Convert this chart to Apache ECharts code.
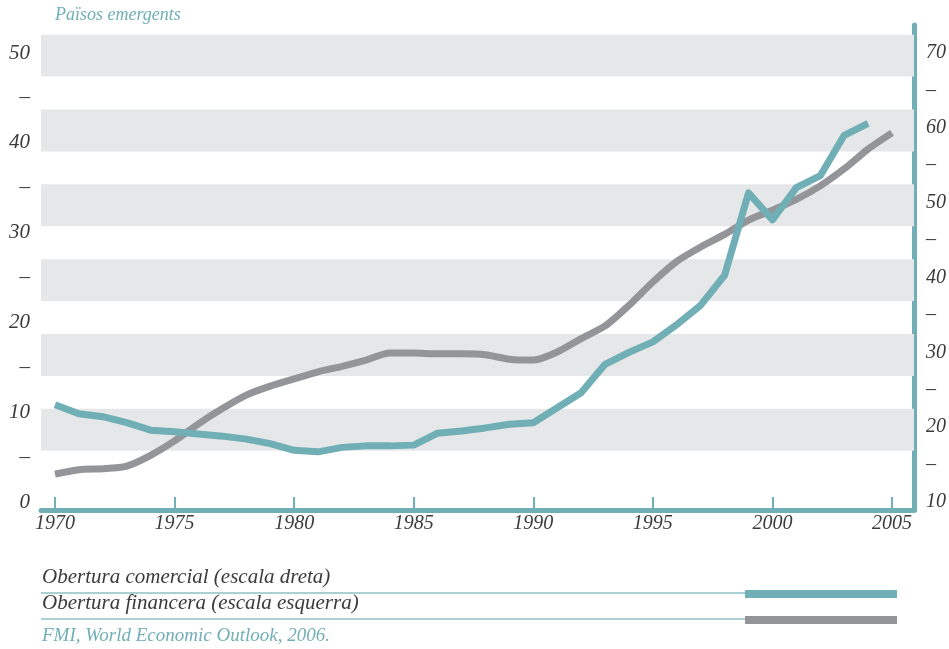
<!DOCTYPE html>
<html>
<head>
    <meta charset="utf-8">
    <script type="text/javascript" src="https://cdn.jsdelivr.net/npm/echarts@6.0.0/dist/echarts.min.js"></script>
    <style type="text/css">
        * {
            margin: 0;
            padding: 0;
        }
        body {
            background: #ffffff;
        }
        #container {
            width: 949px;
            height: 649px;
        }
    </style>
</head>
<body>
<div id="container"></div>

<script type="text/javascript">

    //anys
    var years = [1970, 1971, 1972, 1973, 1974, 1975, 1976, 1977, 1978, 1979,
                 1980, 1981, 1982, 1983, 1984, 1985, 1986, 1987, 1988, 1989,
                 1990, 1991, 1992, 1993, 1994, 1995, 1996, 1997, 1998, 1999,
                 2000, 2001, 2002, 2003, 2004, 2005];
    //obertura financera (escala esquerra)
    var financera = [3.1, 3.6, 3.7, 4.0, 5.2, 6.8, 8.7, 10.4, 11.9, 12.9,
                     13.7, 14.5, 15.1, 15.8, 16.6, 16.6, 16.5, 16.5, 16.4, 15.9,
                     15.8, 16.7, 18.2, 19.6, 21.9, 24.5, 26.8, 28.4, 29.8, 31.4,
                     32.5, 33.7, 35.2, 37.1, 39.3, 41.1];
    //obertura comercial (escala dreta)
    var comercial = [23.0, 21.8, 21.4, 20.6, 19.6, 19.4, 19.1, 18.8, 18.4, 17.8,
                     16.9, 16.7, 17.3, 17.5, 17.5, 17.6, 19.2, 19.5, 19.9, 20.4,
                     20.6, 22.6, 24.6, 28.4, 30.0, 31.4, 33.7, 36.3, 40.3, 51.3,
                     47.7, 52.0, 53.6, 59.0, 60.6, null];
    //etiquetes dels eixos
    var xTicks = [1970, 1975, 1980, 1985, 1990, 1995, 2000, 2005];
    var leftTicks = [0, 5, 10, 15, 20, 25, 30, 35, 40, 45, 50];
    var rightTicks = [10, 15, 20, 25, 30, 35, 40, 45, 50, 55, 60, 65, 70];
    //franges grises (escala dreta)
    var bands = [20, 30, 40, 50, 60, 70];

    var teal = '#71afb6';
    var gray = '#939598';
    var bandColor = '#e6e7e8';
    var textColor = '#3b3b3b';
    var font = 'Liberation Serif';

    function pairs(ys) {
        var out = [];
        for (var i = 0; i < years.length; i++) {
            if (ys[i] !== null && ys[i] !== undefined) {
                out.push([years[i], ys[i]]);
            }
        }
        return out;
    }

    function dashLabel(v) {
        return (Math.round(v) % 10 === 0) ? String(Math.round(v)) : '–';
    }

    var bandData = bands.map(function (v) {
        return [{yAxis: v - 3.15}, {yAxis: v + 2.45}];
    });

    //escala esquerra: 0..50, escala dreta = 10 + 1.2 * esquerra
    var leftMin = -0.891, leftMax = 53.118;

    var dom = document.getElementById('container');
    var myChart = echarts.init(dom);
    var option = {
        animation: false,
        grid: {
            left: 41,
            right: 34,
            top: 25,
            bottom: 139
        },
        xAxis: {
            type: 'value',
            min: 1969.415,
            max: 2005.919,
            splitLine: {show: false},
            axisLine: {
                show: true,
                onZero: false,
                lineStyle: {color: teal, width: 5}
            },
            axisTick: {
                show: true,
                inside: true,
                length: 13,
                customValues: xTicks,
                lineStyle: {color: teal, width: 2}
            },
            axisLabel: {
                customValues: xTicks,
                margin: 4,
                color: textColor,
                fontFamily: font,
                fontStyle: 'italic',
                fontSize: 20,
                formatter: function (v) { return String(Math.round(v)); }
            }
        },
        yAxis: [
            {
                type: 'value',
                position: 'left',
                min: leftMin,
                max: leftMax,
                splitLine: {show: false},
                axisLine: {show: false},
                axisTick: {show: false},
                axisLabel: {
                    customValues: leftTicks,
                    margin: 11,
                    color: textColor,
                    fontFamily: font,
                    fontStyle: 'italic',
                    fontSize: 21,
                    formatter: dashLabel
                }
            },
            {
                type: 'value',
                position: 'right',
                min: 10 + 1.2 * leftMin,
                max: 10 + 1.2 * leftMax,
                splitLine: {show: false},
                axisLine: {
                    show: true,
                    lineStyle: {color: teal, width: 5}
                },
                axisTick: {show: false},
                axisLabel: {
                    customValues: rightTicks,
                    margin: 12,
                    color: textColor,
                    fontFamily: font,
                    fontStyle: 'italic',
                    fontSize: 20,
                    formatter: dashLabel
                }
            }
        ],
        series: [
            {
                name: 'Obertura financera (escala esquerra)',
                type: 'line',
                yAxisIndex: 0,
                symbol: 'none',
                smooth: 0.25,
                z: 3,
                lineStyle: {color: gray, width: 7, join: 'round'},
                data: pairs(financera)
            },
            {
                name: 'Obertura comercial (escala dreta)',
                type: 'line',
                yAxisIndex: 1,
                symbol: 'none',
                z: 4,
                lineStyle: {color: teal, width: 7, join: 'round'},
                data: pairs(comercial),
                markArea: {
                    silent: true,
                    z: 1,
                    itemStyle: {color: bandColor},
                    data: bandData
                }
            }
        ],
        graphic: [
            {
                type: 'text', left: 55, top: 6, silent: true,
                style: {text: 'Països emergents', fill: teal, font: 'italic 18px "Liberation Serif"'}
            },
            {
                type: 'text', left: 42, top: 567, silent: true,
                style: {text: 'Obertura comercial (escala dreta)', fill: textColor, font: 'italic 21px "Liberation Serif"'}
            },
            {
                type: 'line', silent: true,
                shape: {x1: 41, y1: 593, x2: 745, y2: 593},
                style: {stroke: '#8fc0c5', lineWidth: 1.5}
            },
            {
                type: 'rect', silent: true,
                shape: {x: 745, y: 590, width: 152, height: 8},
                style: {fill: teal}
            },
            {
                type: 'text', left: 42, top: 593, silent: true,
                style: {text: 'Obertura financera (escala esquerra)', fill: textColor, font: 'italic 21px "Liberation Serif"'}
            },
            {
                type: 'line', silent: true,
                shape: {x1: 41, y1: 619, x2: 745, y2: 619},
                style: {stroke: '#8fc0c5', lineWidth: 1.5}
            },
            {
                type: 'rect', silent: true,
                shape: {x: 745, y: 616, width: 152, height: 8},
                style: {fill: gray}
            },
            {
                type: 'text', left: 42, top: 626, silent: true,
                style: {text: 'FMI, World Economic Outlook, 2006.', fill: teal, font: 'italic 19px "Liberation Serif"'}
            }
        ]
    };
    myChart.setOption(option, true);

</script>
</body>
</html>
